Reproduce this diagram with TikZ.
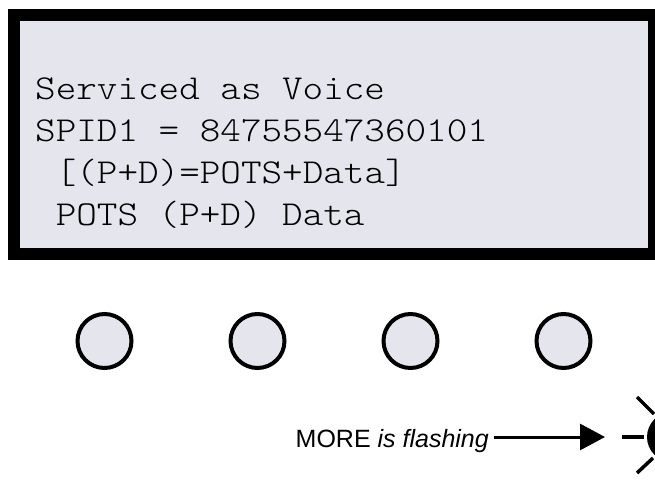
\documentclass[tikz,border=0pt]{standalone}
\usepackage{fontspec}
\setmainfont{Liberation Sans}
\newfontfamily\lcdfont[FakeStretch=1.12]{lmmonolt10-regular.otf}
\usetikzlibrary{arrows.meta}
\definecolor{lcdpanel}{RGB}{229,229,238}
\begin{document}
\begin{tikzpicture}[x=1pt,y=-1pt,
  lcdline/.style={anchor=base west, inner sep=0pt, text=black,
    font=\lcdfont\fontsize{35}{35}\selectfont},
  button/.style={circle, draw=black, line width=4pt, fill=lcdpanel,
    minimum size=54pt, inner sep=0pt},
  ray/.style={line width=3.5pt},
  flash/.style={line width=3pt, -{Triangle[length=25pt,width=26pt]}},
  ]
\useasboundingbox (0,0) rectangle (655,487);
\clip (0,0) rectangle (655,487);

% display bezel and screen
\fill[black] (8,9) rectangle (656,260);
\fill[lcdpanel] (20,21) rectangle (648,248);

% display text
\node[lcdline] (l1) at (35,99)    {Serviced as Voice};
\node[lcdline] (l2) at (35,141)   {SPID1 = 84755547360101};
\node[lcdline] (l3) at (55.6,183) {[(P+D)=POTS+Data]};
\node[lcdline] (l4) at (55.6,225) {POTS (P+D) Data};

% soft keys
\node[button] (k1) at (104.5,341) {};
\node[button] (k2) at (257.5,341) {};
\node[button] (k3) at (410.5,341) {};
\node[button] (k4) at (563.5,341) {};

% MORE key, flashing
\node[circle, fill=black, minimum size=50pt, inner sep=0pt] (morebtn) at (672,437) {};
\draw[ray] (622,437) -- (644,437);
\draw[ray] (637,397) -- (654,414);
\draw[ray] (637,473) -- (653,458);

% callout
\node[anchor=base east, inner sep=0pt, font=\fontsize{25}{25}\selectfont]
  (note) at (489,447) {MORE \textit{is flashing}};
\coordinate (arrowstart) at (494,437);
\coordinate (arrowtip) at (605,437);
\draw[flash] (arrowstart) -- (arrowtip);
\end{tikzpicture}
\end{document}
